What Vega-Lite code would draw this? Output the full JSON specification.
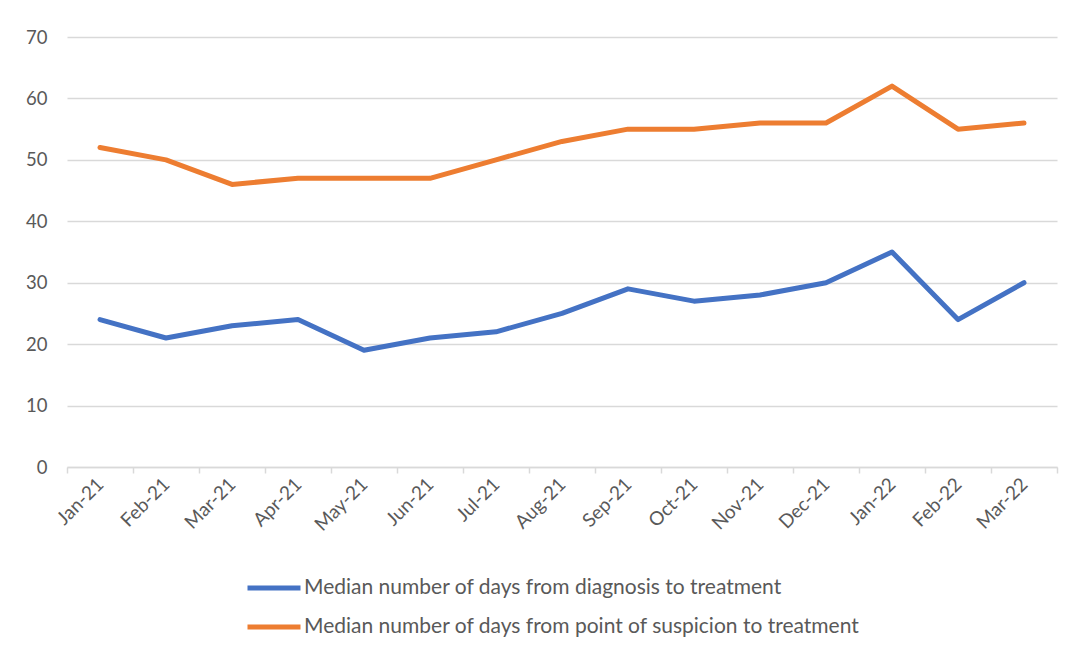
{
  "$schema": "https://vega.github.io/schema/vega-lite/v6.json",
  "autosize": {"type": "none"},
  "width": 990,
  "height": 430,
  "padding": {"left": 67, "top": 37, "right": 14, "bottom": 185},
  "background": "white",
  "config": {
    "view": {"stroke": null},
    "font": "Lato"
  },
  "data": {
    "values": [
      {"month": "Jan-21", "series": "Median number of days from diagnosis to treatment", "value": 24},
      {"month": "Feb-21", "series": "Median number of days from diagnosis to treatment", "value": 21},
      {"month": "Mar-21", "series": "Median number of days from diagnosis to treatment", "value": 23},
      {"month": "Apr-21", "series": "Median number of days from diagnosis to treatment", "value": 24},
      {"month": "May-21", "series": "Median number of days from diagnosis to treatment", "value": 19},
      {"month": "Jun-21", "series": "Median number of days from diagnosis to treatment", "value": 21},
      {"month": "Jul-21", "series": "Median number of days from diagnosis to treatment", "value": 22},
      {"month": "Aug-21", "series": "Median number of days from diagnosis to treatment", "value": 25},
      {"month": "Sep-21", "series": "Median number of days from diagnosis to treatment", "value": 29},
      {"month": "Oct-21", "series": "Median number of days from diagnosis to treatment", "value": 27},
      {"month": "Nov-21", "series": "Median number of days from diagnosis to treatment", "value": 28},
      {"month": "Dec-21", "series": "Median number of days from diagnosis to treatment", "value": 30},
      {"month": "Jan-22", "series": "Median number of days from diagnosis to treatment", "value": 35},
      {"month": "Feb-22", "series": "Median number of days from diagnosis to treatment", "value": 24},
      {"month": "Mar-22", "series": "Median number of days from diagnosis to treatment", "value": 30},
      {"month": "Jan-21", "series": "Median number of days from point of suspicion to treatment", "value": 52},
      {"month": "Feb-21", "series": "Median number of days from point of suspicion to treatment", "value": 50},
      {"month": "Mar-21", "series": "Median number of days from point of suspicion to treatment", "value": 46},
      {"month": "Apr-21", "series": "Median number of days from point of suspicion to treatment", "value": 47},
      {"month": "May-21", "series": "Median number of days from point of suspicion to treatment", "value": 47},
      {"month": "Jun-21", "series": "Median number of days from point of suspicion to treatment", "value": 47},
      {"month": "Jul-21", "series": "Median number of days from point of suspicion to treatment", "value": 50},
      {"month": "Aug-21", "series": "Median number of days from point of suspicion to treatment", "value": 53},
      {"month": "Sep-21", "series": "Median number of days from point of suspicion to treatment", "value": 55},
      {"month": "Oct-21", "series": "Median number of days from point of suspicion to treatment", "value": 55},
      {"month": "Nov-21", "series": "Median number of days from point of suspicion to treatment", "value": 56},
      {"month": "Dec-21", "series": "Median number of days from point of suspicion to treatment", "value": 56},
      {"month": "Jan-22", "series": "Median number of days from point of suspicion to treatment", "value": 62},
      {"month": "Feb-22", "series": "Median number of days from point of suspicion to treatment", "value": 55},
      {"month": "Mar-22", "series": "Median number of days from point of suspicion to treatment", "value": 56}
    ]
  },
  "mark": {"type": "line", "strokeWidth": 5, "strokeCap": "round", "strokeJoin": "round"},
  "encoding": {
    "x": {
      "field": "month",
      "type": "ordinal",
      "sort": null,
      "bandPosition": 0.5,
      "scale": {"type": "band", "paddingInner": 0, "paddingOuter": 0},
      "axis": {
        "title": null,
        "labelAngle": -45,
        "labelAlign": "right",
        "labelBaseline": "middle",
        "labelFontSize": 19,
        "labelColor": "#595959",
        "labelPadding": 8,
        "tickBand": "extent",
        "tickSize": 6,
        "tickColor": "#d9d9d9",
        "tickWidth": 1.5,
        "domainColor": "#d9d9d9",
        "domainWidth": 1.5,
        "grid": false
      }
    },
    "y": {
      "field": "value",
      "type": "quantitative",
      "scale": {"domain": [0, 70], "nice": false},
      "axis": {
        "title": null,
        "values": [0, 10, 20, 30, 40, 50, 60, 70],
        "domain": false,
        "ticks": false,
        "labelFontSize": 18.5,
        "labelColor": "#595959",
        "labelPadding": 20,
        "gridColor": "#d9d9d9",
        "gridWidth": 1.5
      }
    },
    "color": {
      "field": "series",
      "type": "nominal",
      "scale": {
        "domain": ["Median number of days from diagnosis to treatment", "Median number of days from point of suspicion to treatment"],
        "range": ["#4472C4", "#ED7D31"]
      },
      "legend": {
        "title": null,
        "orient": "none",
        "legendX": 178,
        "legendY": 522,
        "direction": "vertical",
        "symbolType": "stroke",
        "symbolSize": 2809,
        "symbolStrokeWidth": 5,
        "labelFontSize": 21,
        "labelColor": "#595959",
        "labelOffset": 1,
        "rowPadding": -12,
        "labelLimit": 700
      }
    }
  }
}
